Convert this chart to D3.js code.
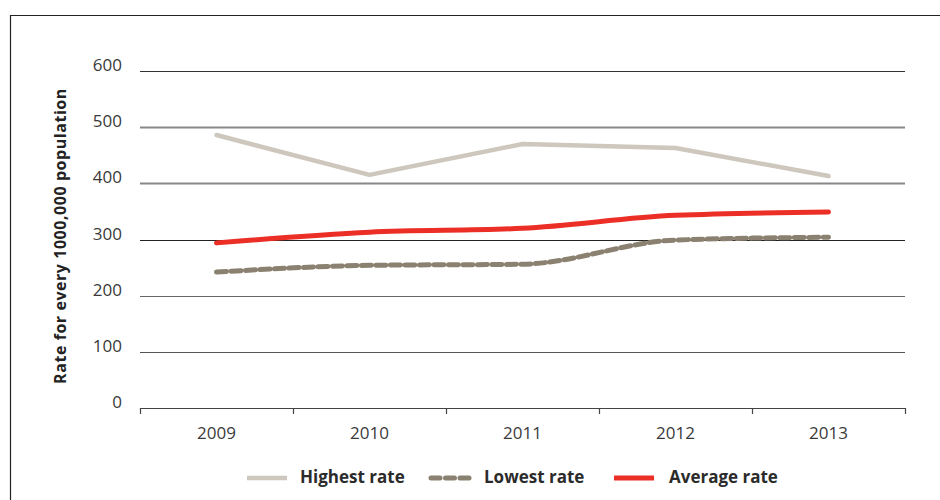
<!DOCTYPE html>
<html>
<head>
<meta charset="utf-8">
<script src="https://cdn.jsdelivr.net/npm/d3@7"></script>
<style>
  html, body { margin: 0; padding: 0; background: #fff; }
  svg { display: block; font-family: "Open Sans", "Noto Sans", sans-serif; }
</style>
</head>
<body>
<svg id="chart" width="940" height="500"></svg>
<script>
// Rates per 1,000,000 population, 2009–2013
const years = ["2009", "2010", "2011", "2012", "2013"];
const highestRate = [486, 415, 470, 463, 413];
const lowestRate = [242, 254, 256, 299, 304];
const averageRate = [294, 313, 320, 343, 349];
const yTicks = [0, 100, 200, 300, 400, 500, 600];

const series = [
  { name: "Highest rate", values: highestRate, color: "#cdc7bd", width: 4.5, dash: null, curve: d3.curveLinear },
  { name: "Lowest rate", values: lowestRate, color: "#8b8170", width: 5, dash: "10,4.5", curve: d3.curveMonotoneX },
  { name: "Average rate", values: averageRate, color: "#ec2f26", width: 5, dash: null, curve: d3.curveMonotoneX }
];

const svg = d3.select("#chart");
const plotLeft = 140, plotRight = 905, plotTop = 71, plotBottom = 408;

// Outer frame (top and left edges)
svg.append("path")
  .attr("d", "M10.5,500 V15.5 H940")
  .attr("fill", "none").attr("stroke", "#222").attr("stroke-width", 1.2);

const x = d3.scaleBand().domain(years).range([plotLeft, plotRight]);
const y = d3.scaleLinear().domain([0, 600]).range([plotBottom, plotTop]);

// Horizontal gridlines
const gridColors = { 0: "#444", 100: "#555", 200: "#666", 300: "#222", 400: "#888", 500: "#888", 600: "#333" };
svg.append("g").selectAll("line").data(yTicks.filter(d => d > 0)).join("line")
  .attr("x1", plotLeft).attr("x2", plotRight)
  .attr("y1", d => Math.round(y(d)) + 0.5).attr("y2", d => Math.round(y(d)) + 0.5)
  .attr("stroke", d => gridColors[d])
  .attr("stroke-width", d => (d === 400 || d === 500) ? 1.8 : 1.2);

// Y tick labels
svg.append("g").selectAll("text").data(yTicks).join("text")
  .attr("x", 122).attr("y", d => y(d) - 4.5)
  .attr("text-anchor", "end")
  .attr("dominant-baseline", "middle")
  .attr("font-size", 17).attr("fill", "#3a3a3a")
  .text(d => d);

// X axis with ticks at band boundaries
const xAxis = d3.axisBottom(x).tickSize(0).tickPadding(19);
const gx = svg.append("g").attr("transform", `translate(0,${plotBottom})`).call(xAxis);
gx.select(".domain").remove();
gx.selectAll("text").attr("font-size", 17).attr("fill", "#3a3a3a").attr("font-family", "Open Sans, Noto Sans, sans-serif");
svg.append("line").attr("x1", plotLeft).attr("x2", plotRight).attr("y1", plotBottom + 0.5).attr("y2", plotBottom + 0.5)
  .attr("stroke", "#444").attr("stroke-width", 1.2);
const boundaries = years.map(d => x(d)).concat([x(years[years.length - 1]) + x.bandwidth()]);
svg.append("g").selectAll("line").data(boundaries).join("line")
  .attr("x1", d => Math.round(d) + 0.5).attr("x2", d => Math.round(d) + 0.5)
  .attr("y1", plotBottom).attr("y2", plotBottom + 6)
  .attr("stroke", "#444").attr("stroke-width", 1.2);

// Y axis title
svg.append("text")
  .attr("transform", `translate(66,236) rotate(-90)`)
  .attr("text-anchor", "middle")
  .attr("font-size", 16).attr("font-weight", "bold").attr("fill", "#222")
  .attr("letter-spacing", 0.55)
  .text("Rate for every 1000,000 population");

// Series lines
const cx = d => x(d) + x.bandwidth() / 2;
series.forEach(s => {
  const line = d3.line().x((d, i) => cx(years[i])).y(d => y(d)).curve(s.curve);
  svg.append("path")
    .datum(s.values)
    .attr("d", line)
    .attr("fill", "none")
    .attr("stroke", s.color)
    .attr("stroke-width", s.width)
    .attr("stroke-linecap", "round")
    .attr("stroke-linejoin", "round")
    .attr("stroke-dasharray", s.dash);
});

// Legend
const legendItems = [
  { s: series[0], x: 245, tx: 300 },
  { s: series[1], x: 429, tx: 484 },
  { s: series[2], x: 612, tx: 669 }
];
const lg = svg.append("g");
legendItems.forEach(it => {
  lg.append("line")
    .attr("x1", it.x + 2).attr("x2", it.x + 42)
    .attr("y1", 478).attr("y2", 478)
    .attr("stroke", it.s.color)
    .attr("stroke-width", it.s.width)
    .attr("stroke-linecap", it.s.dash ? "round" : "butt")
    .attr("stroke-dasharray", it.s.dash ? "9,5.5" : null);
  lg.append("text")
    .attr("x", it.tx).attr("y", 478)
    .attr("dominant-baseline", "middle")
    .attr("font-size", 17).attr("font-weight", "bold").attr("fill", "#2b2b2b")
    .text(it.s.name);
});
</script>
</body>
</html>
